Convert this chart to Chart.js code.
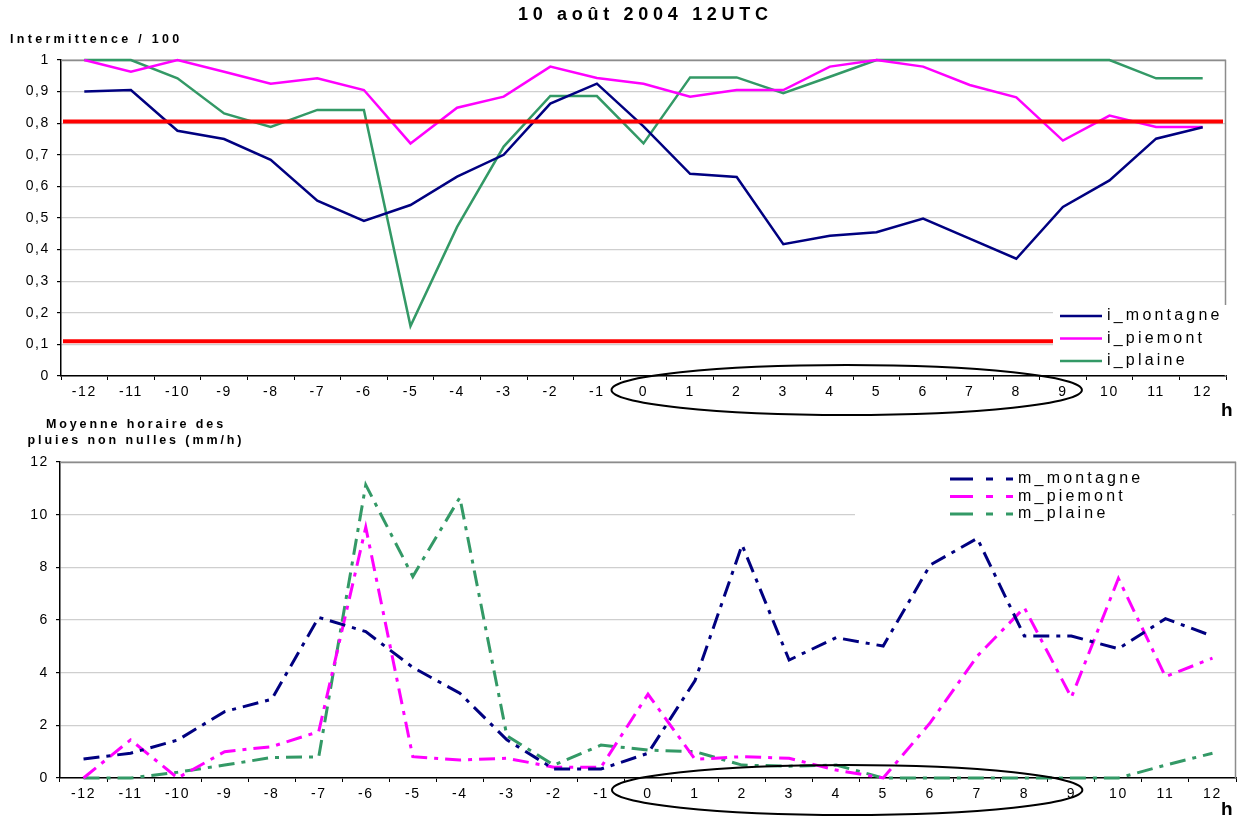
<!DOCTYPE html>
<html>
<head>
<meta charset="utf-8">
<script src="https://cdn.jsdelivr.net/npm/chart.js@4.4.1/dist/chart.umd.min.js"></script>
<style>
  body { margin: 0; background: #fff; width: 1240px; height: 819px; position: relative; overflow: hidden;
         font-family: "Liberation Sans", Arial, sans-serif; }
  canvas { position: absolute; left: 0; }
  #chartHaut { top: 0; }
  #chartBas { top: 410px; }
  .lbl { position: absolute; font-weight: bold; color: #000; white-space: nowrap; }
</style>
</head>
<body>
<canvas id="chartHaut" width="1240" height="420"></canvas>
<canvas id="chartBas" width="1240" height="409"></canvas>

<div class="lbl" style="left:518px;top:4px;font-size:18px;letter-spacing:4.7px;">10 août 2004 12UTC</div>
<div class="lbl" style="left:10px;top:32px;font-size:12.5px;letter-spacing:3.3px;">Intermittence / 100</div>
<div class="lbl" style="left:1221px;top:399px;font-size:19px;">h</div>
<div class="lbl" style="left:20px;top:416px;width:232px;text-align:center;font-size:12.5px;letter-spacing:2.9px;line-height:16px;">Moyenne horaire des<br>pluies non nulles (mm/h)</div>
<div class="lbl" style="left:1221px;top:798px;font-size:19px;">h</div>

<script>
// heures relatives (axe x)
const heures = ['-12', '-11', '-10', '-9', '-8', '-7', '-6', '-5', '-4', '-3', '-2', '-1',
                '0', '1', '2', '3', '4', '5', '6', '7', '8', '9', '10', '11', '12'];

// intermittence / 100
const iMontagne = [0.90, 0.905, 0.776, 0.75, 0.684, 0.555, 0.491, 0.541, 0.631, 0.70, 0.862, 0.925,
                   0.79, 0.64, 0.63, 0.417, 0.444, 0.455, 0.498, 0.435, 0.371, 0.535, 0.619, 0.751, 0.787];
const iPiemont = [1.0, 0.963, 1.0, 0.963, 0.925, 0.942, 0.905, 0.736, 0.849, 0.884, 0.979, 0.943,
                  0.925, 0.884, 0.905, 0.905, 0.979, 1.0, 0.979, 0.921, 0.882, 0.745, 0.824, 0.788, 0.788];
const iPlaine = [1.0, 1.0, 0.942, 0.831, 0.788, 0.842, 0.842, 0.158, 0.472, 0.726, 0.886, 0.886,
                 0.736, 0.945, 0.945, 0.895, 0.947, 1.0, 1.0, 1.0, 1.0, 1.0, 1.0, 0.942, 0.942];
const seuils = [0.805, 0.11];

// moyenne horaire des pluies non nulles (mm/h)
const mMontagne = [0.72, 0.94, 1.44, 2.52, 2.99, 6.10, 5.56, 4.2, 3.22, 1.45, 0.34, 0.34,
                   0.94, 3.7, 8.85, 4.48, 5.33, 5.01, 8.09, 9.1, 5.39, 5.39, 4.91, 6.05, 5.39];
const mPiemont = [0, 1.45, 0, 1.0, 1.19, 1.76, 9.52, 0.81, 0.68, 0.75, 0.41, 0.41,
                  3.18, 0.71, 0.81, 0.75, 0.3, 0, 2.1, 4.63, 6.47, 3.06, 7.58, 3.85, 4.55];
const mPlaine = [0, 0, 0.22, 0.49, 0.78, 0.8, 11.13, 7.65, 10.65, 1.6, 0.49, 1.25,
                 1.06, 1.0, 0.49, 0.45, 0.49, 0, 0, 0, 0, 0, 0, 0.49, 0.94];

const BLEU = '#000080', ROSE = '#ff00ff', VERT = '#339966';
const TIRET = [16, 7, 4, 7];
const POLICE = { family: '"Liberation Sans", Arial, sans-serif', size: 14 };

function espacement(chart) {
    chart.ctx.letterSpacing = '1.6px';
}

// cadre gris, seuils rouges, legende dans le graphe, ellipse sur l'axe
const decor = {
    id: 'decor',
    beforeLayout: espacement,
    beforeDraw: espacement,
    beforeDatasetsDraw(chart) {
        const a = chart.chartArea, ctx = chart.ctx;
        ctx.save();
        ctx.strokeStyle = '#8c8c8c';
        ctx.lineWidth = 1.5;
        ctx.beginPath();
        ctx.moveTo(a.left, a.top + 0.5);
        ctx.lineTo(a.right - 0.5, a.top + 0.5);
        ctx.lineTo(a.right - 0.5, a.bottom);
        ctx.stroke();
        ctx.restore();
    },
    afterDatasetsDraw(chart, args, opts) {
        const a = chart.chartArea, ctx = chart.ctx, y = chart.scales.y;
        ctx.save();
        (opts.seuils || []).forEach(v => {
            const py = y.getPixelForValue(v);
            ctx.strokeStyle = '#ff0000';
            ctx.lineWidth = 4;
            ctx.beginPath();
            ctx.moveTo(a.left + 2, py);
            ctx.lineTo(a.right - 3, py);
            ctx.stroke();
        });

        // legende
        const L = opts.legende;
        ctx.fillStyle = '#fff';
        ctx.fillRect(L.x, L.y, L.w, L.h);
        ctx.font = '16px "Liberation Sans", Arial, sans-serif';
        ctx.letterSpacing = '3.2px';
        ctx.textBaseline = 'middle';
        chart.data.datasets.forEach((ds, i) => {
            const ly = L.y + L.y0 + i * L.pas;
            ctx.strokeStyle = ds.borderColor;
            ctx.lineWidth = ds.borderWidth;
            ctx.setLineDash(L.tiret || []);
            ctx.beginPath();
            ctx.moveTo(L.x + L.l0, ly);
            ctx.lineTo(L.x + L.l1, ly);
            ctx.stroke();
            ctx.setLineDash([]);
            ctx.fillStyle = '#000';
            ctx.fillText(ds.label, L.x + L.l1 + 5, ly);
        });
        ctx.restore();
    },
    afterDraw(chart, args, opts) {
        const x = chart.scales.x, ctx = chart.ctx;
        const g = x.getPixelForValue(heures.indexOf('0')) - opts.ellipseG;
        const d = x.getPixelForValue(heures.indexOf('9')) + opts.ellipseD;
        ctx.save();
        ctx.strokeStyle = '#000';
        ctx.lineWidth = 2;
        ctx.beginPath();
        ctx.ellipse((g + d) / 2, chart.chartArea.bottom + opts.ellipseDy, (d - g) / 2, 25, 0, 0, Math.PI * 2);
        ctx.stroke();
        ctx.restore();
    }
};

function axes(yMax, pas, largeurY, hauteurX, formatY) {
    return {
        x: {
            type: 'category',
            offset: true,
            afterFit: s => { s.height = hauteurX; },
            grid: { display: true, drawOnChartArea: false, color: '#000', tickLength: 4, offset: true },
            border: { color: '#000', width: 1.5 },
            ticks: { color: '#000', font: POLICE, padding: 4, maxRotation: 0, autoSkip: false }
        },
        y: {
            min: 0, max: yMax,
            afterFit: s => { s.width = largeurY; },
            grid: { color: '#cfcfcf', lineWidth: 1.2, tickLength: 4, tickColor: '#000' },
            border: { color: '#000', width: 1.5 },
            ticks: { color: '#000', font: POLICE, padding: 7, stepSize: pas, callback: formatY }
        }
    };
}

function serie(label, data, couleur, dash, largeur) {
    return {
        label: label, data: data, borderColor: couleur, backgroundColor: couleur,
        borderWidth: largeur, borderDash: dash, pointRadius: 0, tension: 0, fill: false, clip: false
    };
}

new Chart(document.getElementById('chartHaut'), {
    type: 'line',
    data: {
        labels: heures,
        datasets: [
            serie('i_montagne', iMontagne, BLEU, [], 2.5),
            serie('i_piemont', iPiemont, ROSE, [], 2.5),
            serie('i_plaine', iPlaine, VERT, [], 2.5)
        ]
    },
    options: {
        responsive: false,
        animation: false,
        layout: { padding: { top: 60, right: 14, left: 0, bottom: 0 } },
        scales: axes(1, 0.1, 61, 44, v => String(Math.round(v * 10) / 10).replace('.', ',')),
        plugins: {
            legend: { display: false },
            tooltip: { enabled: false },
            decor: {
                seuils: seuils,
                ellipseDy: 14, ellipseG: 32, ellipseD: 19,
                legende: { x: 1053, y: 305, w: 174, h: 70, y0: 11, pas: 22.5, l0: 7, l1: 49 }
            }
        }
    },
    plugins: [decor]
});

new Chart(document.getElementById('chartBas'), {
    type: 'line',
    data: {
        labels: heures,
        datasets: [
            serie('m_montagne', mMontagne, BLEU, TIRET, 3),
            serie('m_piemont', mPiemont, ROSE, TIRET, 3),
            serie('m_plaine', mPlaine, VERT, TIRET, 3)
        ]
    },
    options: {
        responsive: false,
        animation: false,
        layout: { padding: { top: 52, right: 4, left: 0, bottom: 0 } },
        scales: axes(12, 2, 60, 41, v => String(v)),
        plugins: {
            legend: { display: false },
            tooltip: { enabled: false },
            decor: {
                seuils: [],
                ellipseDy: 12, ellipseG: 36, ellipseD: 11,
                legende: { x: 855, y: 58, w: 377, h: 58, y0: 11, pas: 17.5, l0: 95, l1: 158, tiret: [23, 13, 7, 13] }
            }
        }
    },
    plugins: [decor]
});
</script>
</body>
</html>
